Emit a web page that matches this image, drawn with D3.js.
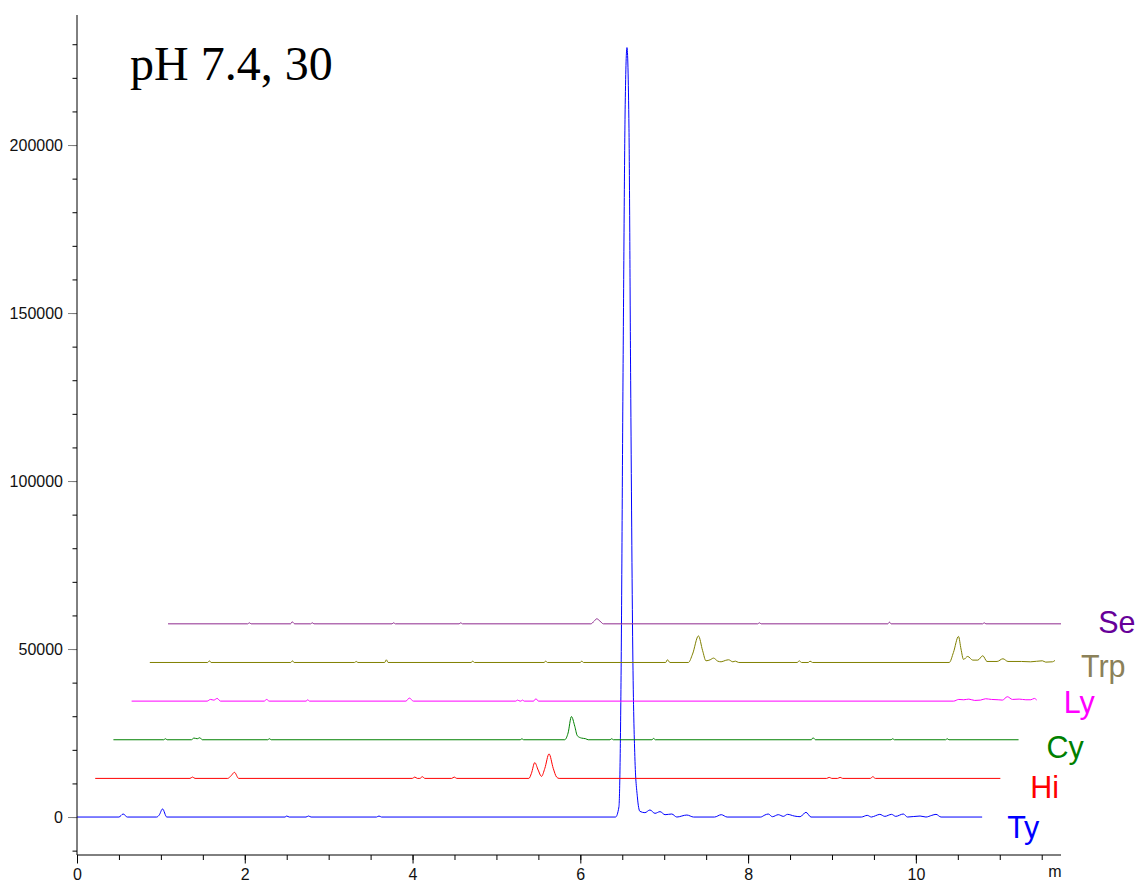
<!DOCTYPE html>
<html>
<head>
<meta charset="utf-8">
<script src="https://cdn.jsdelivr.net/npm/d3@7"></script>
<style>
  html, body { margin: 0; padding: 0; background: #fff; }
  svg { display: block; }
  .tick text { font-family: "Liberation Sans", Arial, sans-serif; }
</style>
</head>
<body>
<svg id="chart" width="1139" height="882"></svg>
<script>
// Overlaid chromatograms, pH 7.4 — each trace is [retention time (min), intensity]
const seriesNames = ["Ty", "Hi", "Cy", "Ly", "Trp", "Se"];

const tyTrace = [
  [0,0],[0.5,0],[0.55,900],[0.6,0],[0.95,0],[0.98,600],[1.02,2400],[1.07,0],
  [2.48,0],[2.5,300],[2.53,0],[2.73,0],[2.76,300],[2.79,0],[3.57,0],[3.6,300],[3.63,0],
  [6.42,0],[6.46,3000],[6.485,40000],[6.51,135000],[6.535,212000],[6.556,229000],
  [6.58,205000],[6.6,130000],[6.625,50000],[6.65,18000],[6.68,6000],[6.71,1700],
  [6.77,1300],[6.83,2100],[6.89,1100],[6.95,1600],[7.01,700],[7.09,900],[7.15,0],
  [7.27,600],[7.35,0],[7.6,0],[7.68,700],[7.75,0],[8.15,0],[8.2,600],[8.24,900],
  [8.29,100],[8.36,700],[8.42,200],[8.47,800],[8.55,300],[8.62,100],[8.69,1400],
  [8.75,0],[9.35,0],[9.42,500],[9.47,0],[9.52,400],[9.57,800],[9.63,200],[9.71,800],
  [9.76,200],[9.85,900],[9.9,0],[10.05,300],[10.12,0],[10.19,500],[10.24,800],
  [10.3,0],[10.79,0]
];

const hiTrace = [
  [0,0],[1.13,0],[1.16,400],[1.19,0],[1.58,0],[1.62,800],[1.66,1800],[1.71,0],
  [3.78,0],[3.81,400],[3.84,0],[3.87,0],[3.9,500],[3.93,0],[4.25,0],[4.28,400],[4.31,0],
  [5.17,0],[5.2,1500],[5.24,4700],[5.28,2500],[5.32,600],[5.36,3000],[5.41,7300],
  [5.46,3000],[5.5,400],[5.53,0],[8.72,0],[8.75,300],[8.78,0],[8.85,0],[8.88,300],
  [8.91,0],[9.24,0],[9.27,500],[9.3,0],[10.79,0]
];

const cyTrace = [
  [0,0],[0.6,0],[0.62,300],[0.64,0],[0.93,0],[0.96,500],[1.0,300],[1.03,600],[1.06,0],
  [1.84,0],[1.86,300],[1.88,0],[4.85,0],[4.87,300],[4.89,0],[5.38,0],[5.42,2000],
  [5.46,6900],[5.5,4000],[5.53,1200],[5.58,500],[5.63,300],[5.66,0],[5.92,0],[5.94,300],
  [5.96,0],[6.42,0],[6.44,400],[6.46,0],[8.32,0],[8.34,600],[8.37,0],[9.27,0],[9.29,300],
  [9.31,0],[9.92,0],[9.94,300],[9.96,0],[10.79,0]
];

const lyTrace = [
  [0,0],[0.9,0],[0.94,500],[0.98,300],[1.02,800],[1.06,0],[1.58,0],[1.61,500],[1.64,0],
  [2.08,0],[2.1,400],[2.12,0],[3.27,0],[3.31,900],[3.36,0],[4.58,0],[4.6,300],[4.63,0],
  [4.64,0],[4.66,300],[4.68,0],[4.79,0],[4.82,700],[4.85,0],[9.8,0],[9.86,500],
  [9.92,400],[9.98,600],[10.05,200],[10.12,300],[10.18,700],[10.25,500],[10.33,400],
  [10.38,300],[10.44,1300],[10.5,500],[10.58,600],[10.66,400],[10.72,400],[10.76,800],
  [10.79,300]
];

const trpTrace = [
  [0,0],[0.69,0],[0.71,500],[0.73,0],[1.68,0],[1.7,500],[1.72,0],[2.44,0],[2.46,300],
  [2.48,0],[2.8,0],[2.82,800],[2.84,0],[3.83,0],[3.85,400],[3.87,0],[4.7,0],[4.72,400],
  [4.74,0],[5.13,0],[5.15,400],[5.17,0],[6.15,0],[6.17,800],[6.2,0],[6.42,0],[6.47,2500],
  [6.54,7900],[6.59,3500],[6.63,500],[6.68,800],[6.72,1300],[6.77,400],[6.81,200],
  [6.86,600],[6.9,800],[6.95,200],[6.98,400],[7.02,0],[7.72,0],[7.74,500],[7.77,0],
  [7.85,0],[7.87,400],[7.9,0],[9.53,0],[9.58,3000],[9.64,7750],[9.67,4000],[9.7,900],
  [9.75,1800],[9.81,700],[9.87,700],[9.93,2000],[9.98,300],[10.1,300],[10.17,1100],
  [10.23,300],[10.39,300],[10.5,200],[10.64,500],[10.68,100],[10.76,200],[10.79,600]
];

const seTrace = [
  [0,0],[0.95,0],[0.97,300],[0.99,0],[1.46,0],[1.48,600],[1.51,0],[1.7,0],[1.72,300],
  [1.74,0],[2.67,0],[2.69,300],[2.71,0],[3.47,0],[3.49,300],[3.51,0],[5.04,0],[5.08,800],
  [5.11,1500],[5.15,800],[5.19,0],[7.03,0],[7.05,300],[7.07,0],[8.58,0],[8.6,500],
  [8.62,0],[9.71,0],[9.73,300],[9.75,0],[10.79,0]
];

const traces = [tyTrace, hiTrace, cyTrace, lyTrace, trpTrace, seTrace];

// Axis ticks
const yMajorTicks = [0, 50000, 100000, 150000, 200000];
const yMinorTicks = d3.range(-10000, 230001, 10000);
const xMajorTicks = [0, 2, 4, 6, 8, 10];
const xMinorTicks = d3.range(0, 11.51, 0.5);

// Display styling
const traceColors = ["#0000ff", "#ff0000", "#008000", "#ff00ff", "#808000", "#8e2a8e"];
const labelColors = ["#0000ff", "#ff0000", "#008000", "#ff00ff", "#8b8159", "#660099"];
const stepTime = 0.217;       // horizontal shift between stacked traces (min)
const stepIntensity = 11500;  // vertical shift between stacked traces
const labelDrop = [21, 20, 18, 12, 15, 9];
const labelGap = [25, 30, 28, 27, 26, 25];

const svg = d3.select("#chart");
const margin = { left: 77, top: 15, right: 1061, bottom: 855 };

const x = d3.scaleLinear().domain([0, 11.73]).range([margin.left, margin.right]);
const y = d3.scaleLinear().domain([-11300, 238700]).range([margin.bottom, margin.top]);

svg.append("rect").attr("width", 1139).attr("height", 882).attr("fill", "#fff");

svg.append("defs").append("clipPath").attr("id", "plot-clip")
  .append("rect")
  .attr("x", margin.left).attr("y", margin.top)
  .attr("width", margin.right - margin.left).attr("height", margin.bottom - margin.top);

// Traces
const line = d3.line().curve(d3.curveMonotoneX);
const plot = svg.append("g").attr("clip-path", "url(#plot-clip)");
traces.forEach((tr, i) => {
  const dt = i * stepTime, dv = i * stepIntensity;
  plot.append("path")
    .attr("d", line(tr.map(d => [x(d[0] + dt), y(d[1] + dv)])))
    .attr("fill", "none")
    .attr("stroke", traceColors[i])
    .attr("stroke-width", 1);
});

// Series labels at the right end of each trace
seriesNames.forEach((name, i) => {
  const tr = traces[i];
  const tEnd = tr[tr.length - 1][0] + i * stepTime;
  svg.append("text")
    .attr("x", x(tEnd) + labelGap[i])
    .attr("y", y(i * stepIntensity) + labelDrop[i])
    .attr("font-family", "Liberation Sans, Arial, sans-serif")
    .attr("font-size", 30.5)
    .attr("fill", labelColors[i])
    .text(name);
});

// Y axis
const yMinor = svg.append("g").attr("transform", `translate(${margin.left},0)`)
  .call(d3.axisLeft(y).tickValues(yMinorTicks).tickSize(4.5).tickFormat(""));
yMinor.select(".domain").remove();
yMinor.selectAll(".tick line").attr("stroke", "#000");

const yMajor = svg.append("g").attr("transform", `translate(${margin.left},0)`)
  .call(d3.axisLeft(y).tickValues(yMajorTicks).tickSize(9).tickPadding(5).tickFormat(d3.format("d")));
yMajor.select(".domain").remove();
yMajor.selectAll(".tick line").attr("stroke", "#808080");
yMajor.selectAll(".tick text").attr("font-size", 16).attr("fill", "#111");

svg.append("line")
  .attr("x1", margin.left).attr("x2", margin.left)
  .attr("y1", margin.top).attr("y2", margin.bottom)
  .attr("stroke", "#000");

// X axis
const xMinor = svg.append("g").attr("transform", `translate(0,${margin.bottom})`)
  .call(d3.axisBottom(x).tickValues(xMinorTicks).tickSize(5).tickFormat(""));
xMinor.select(".domain").remove();

const xMajor = svg.append("g").attr("transform", `translate(0,${margin.bottom})`)
  .call(d3.axisBottom(x).tickValues(xMajorTicks).tickSize(8.5).tickPadding(5.5).tickFormat(d3.format("d")));
xMajor.select(".domain").remove();
xMajor.selectAll(".tick text").attr("font-size", 16).attr("fill", "#111");

svg.append("line")
  .attr("x1", margin.left).attr("x2", margin.right)
  .attr("y1", margin.bottom).attr("y2", margin.bottom)
  .attr("stroke", "#000");

svg.append("text")
  .attr("x", 1055).attr("y", 877)
  .attr("text-anchor", "middle")
  .attr("font-family", "Liberation Sans, Arial, sans-serif")
  .attr("font-size", 16)
  .attr("fill", "#111")
  .text("m");

// Title
svg.append("text")
  .attr("x", 130).attr("y", 80)
  .attr("font-family", "Liberation Serif, serif")
  .attr("font-size", 48)
  .attr("fill", "#000")
  .text("pH 7.4, 30");
</script>
</body>
</html>
